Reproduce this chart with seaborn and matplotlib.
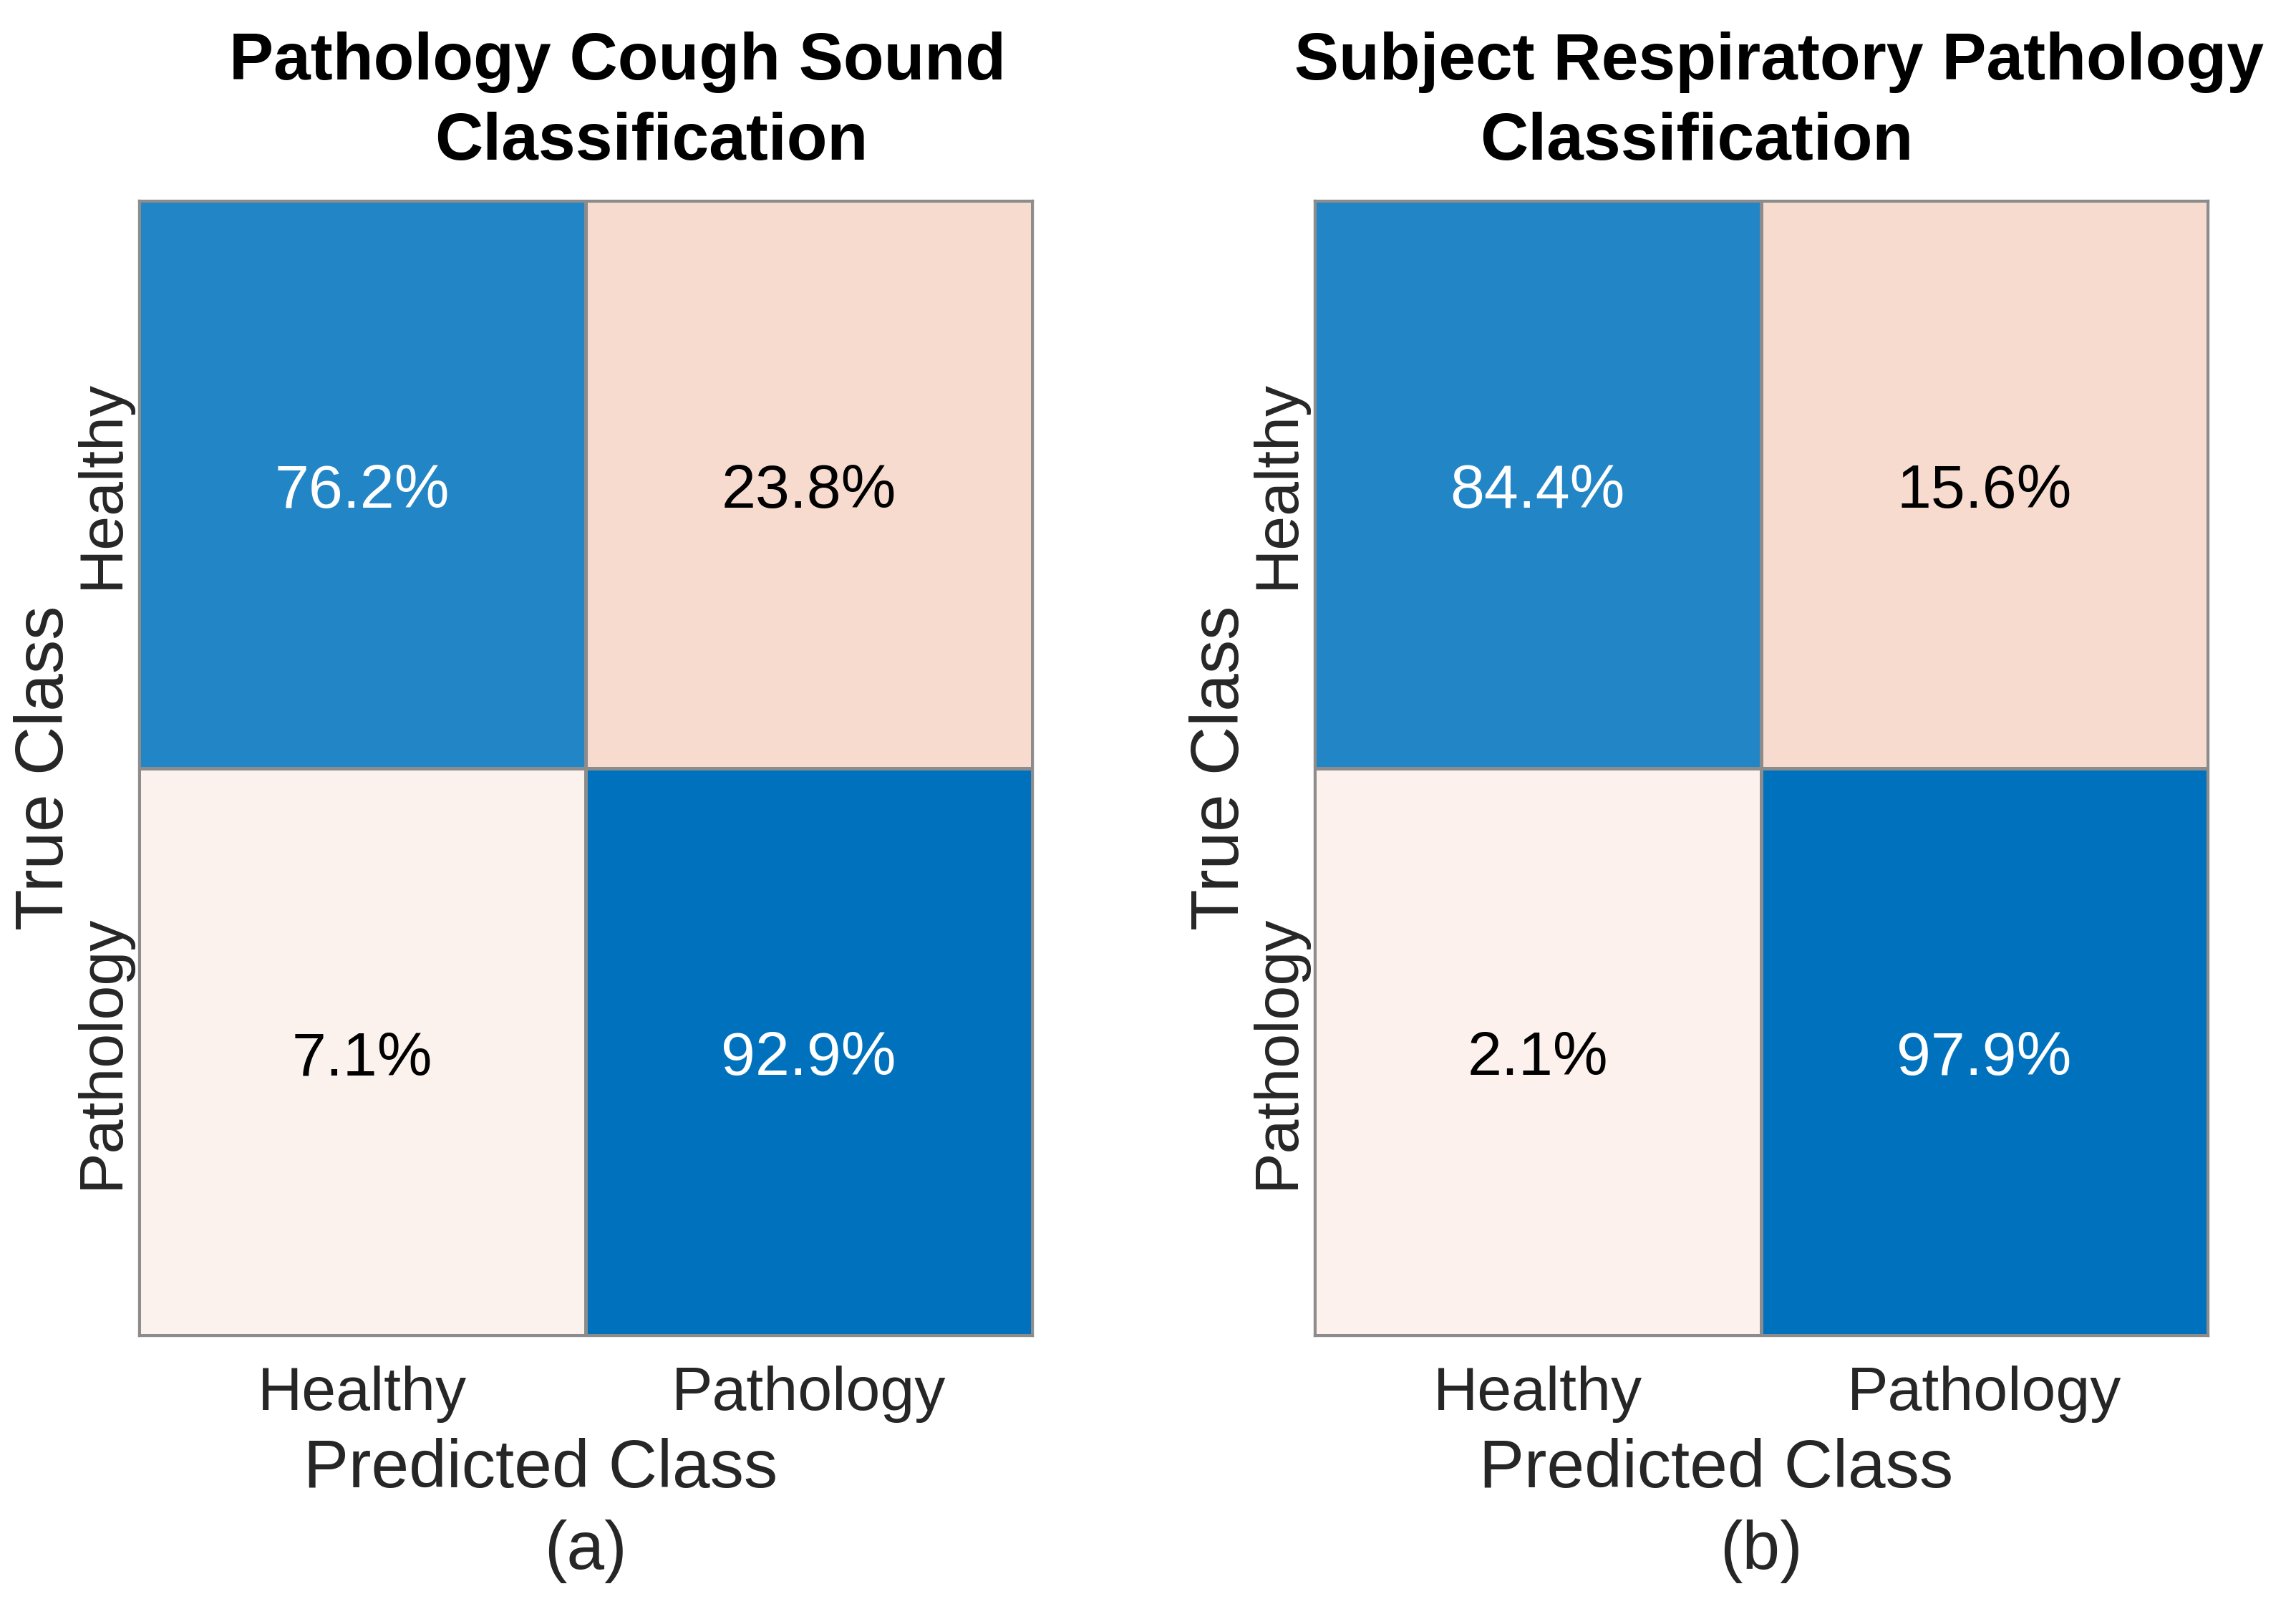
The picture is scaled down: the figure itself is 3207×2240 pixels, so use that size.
"""Two confusion charts (row-normalised %) for cough / subject classification."""

import matplotlib

matplotlib.use("Agg")
import matplotlib.pyplot as plt
import numpy as np
import seaborn as sns
from matplotlib.colors import LinearSegmentedColormap

sns.set_style("white")
plt.rcParams["font.family"] = ["Liberation Sans", "DejaVu Sans"]

# Data
CLASSES = ["Healthy", "Pathology"]
COUGH_PCT = [[76.2, 23.8], [7.1, 92.9]]
SUBJECT_PCT = [[84.4, 15.6], [2.1, 97.9]]

TITLE_LINES = [
    ["Pathology Cough Sound", "Classification"],
    ["Subject Respiratory Pathology", "Classification"],
]
PANEL_TAGS = ["(a)", "(b)"]

# MATLAB-confusionchart-like shading; limits tuned per panel to match the picture
DIAG_CMAP = LinearSegmentedColormap.from_list("diag", ["#ffffff", "#0072BD"])
OFF_CMAP = LinearSegmentedColormap.from_list("off", ["#ffffff", "#D95319"])
DIAG_LIMITS = [(-30.8, 92.9), (-2.1, 97.9)]
OFF_LIMITS = [(-3.6, 126.9), (-6.6, 98.9)]

EDGE = "#8c8c8c"
TEXT = "#262626"

fig = plt.figure(figsize=(16.035, 11.2), dpi=200)
axes = [
    fig.add_axes([0.0605, 0.1674, 0.389, 0.7076]),
    fig.add_axes([0.5725, 0.1674, 0.389, 0.7076]),
]
# title line centres (axes fraction) - the original lines are not aligned
title_x = [(0.536, 0.574), (0.52, 0.428)]

for i, (ax, values) in enumerate(zip(axes, [COUGH_PCT, SUBJECT_PCT])):
    mat = np.array(values)
    diag_mask = ~np.eye(2, dtype=bool)
    off_mask = np.eye(2, dtype=bool)

    sns.heatmap(
        mat, mask=diag_mask, cmap=DIAG_CMAP,
        vmin=DIAG_LIMITS[i][0], vmax=DIAG_LIMITS[i][1],
        cbar=False, linewidths=1.2, linecolor=EDGE, ax=ax,
    )
    sns.heatmap(
        mat, mask=off_mask, cmap=OFF_CMAP,
        vmin=OFF_LIMITS[i][0], vmax=OFF_LIMITS[i][1],
        cbar=False, linewidths=1.2, linecolor=EDGE, ax=ax,
    )

    for r in range(2):
        for c in range(2):
            ax.text(
                c + 0.5, r + 0.513, f"{mat[r, c]:.1f}%",
                ha="center", va="center", fontsize=31,
                color="white" if r == c else "black",
            )

    ax.set_xticks([0.5, 1.5])
    ax.set_xticklabels(CLASSES, fontsize=31, color=TEXT)
    ax.set_yticks([0.5, 1.5])
    ax.set_yticklabels(CLASSES, fontsize=31, color=TEXT, rotation=90, va="center")
    ax.tick_params(axis="x", length=0, pad=15)
    ax.tick_params(axis="y", length=0, pad=4)

    for spine in ax.spines.values():
        spine.set_visible(True)
        spine.set_color(EDGE)
        spine.set_linewidth(1.2)

    ax.set_ylabel("True Class", fontsize=34, color=TEXT, labelpad=-2)
    ax.set_xlabel("")
    ax.text(0.45, -0.118, "Predicted Class", transform=ax.transAxes,
            ha="center", va="center", fontsize=34, color=TEXT)
    ax.text(0.5, -0.19, PANEL_TAGS[i], transform=ax.transAxes,
            ha="center", va="center", fontsize=34, color=TEXT)

    line1, line2 = TITLE_LINES[i]
    ax.text(title_x[i][0], 1.122, line1, transform=ax.transAxes, ha="center",
            va="center", fontsize=33.5, fontweight="bold", color="black")
    ax.text(title_x[i][1], 1.051, line2, transform=ax.transAxes, ha="center",
            va="center", fontsize=33.5, fontweight="bold", color="black")

fig.savefig("out.png", dpi=200)
